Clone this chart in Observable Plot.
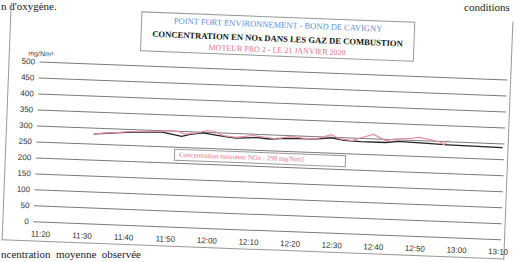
<!DOCTYPE html>
<html><head><meta charset="utf-8">
<script src="https://cdn.jsdelivr.net/npm/d3@7"></script>
<script src="https://cdn.jsdelivr.net/npm/@observablehq/plot@0.6"></script>
<style>
html,body{margin:0;padding:0;background:#fff;width:521px;height:262px;overflow:hidden;}
#page{position:relative;width:521px;height:262px;overflow:hidden;}
.doc{position:absolute;font-family:"Liberation Serif","DejaVu Serif",serif;font-size:11px;line-height:12px;color:#222;white-space:nowrap;}
#rot{position:absolute;left:0;top:0;width:521px;height:262px;transform:rotate(2.2deg);transform-origin:260.5px 131px;}
#frame{position:absolute;left:6px;top:12px;width:503px;height:238px;border:1px solid #999;border-top:none;box-sizing:border-box;}
#chart{position:absolute;left:0;top:0;}
#titlebox{position:absolute;left:137px;top:16px;width:274px;height:40px;border:1px solid #999;box-sizing:border-box;background:#fff;
  font-family:"Liberation Serif","DejaVu Serif",serif;text-align:center;white-space:nowrap;}
#titlebox div{line-height:11px;}
#t1{color:#5b90dc;font-size:8.5px;margin-top:2px;}
#t2{color:#111;font-size:8.6px;font-weight:bold;margin-top:3px;}
#t3{color:#e2708a;font-size:8px;margin-top:0px;}
#avgbox{position:absolute;left:175px;top:152px;width:172px;height:12px;border:1px solid #999;box-sizing:border-box;background:#fff;
  font-family:"Liberation Serif","DejaVu Serif",serif;font-size:7px;color:#e2708a;line-height:10px;padding-left:4px;white-space:nowrap;}
</style></head>
<body>
<div id="page">
  <div class="doc" style="left:1px;top:0px">n d'oxygène.</div>
  <div class="doc" style="left:464px;top:1px">conditions</div>
  <div class="doc" style="left:1px;top:248px">ncentration&nbsp; moyenne&nbsp; observée</div>
  <div id="rot">
    <div id="frame"></div>
    <div id="chart"></div>
    <div id="titlebox">
      <div id="t1">POINT FORT ENVIRONNEMENT - BOND DE CAVIGNY</div>
      <div id="t2">CONCENTRATION EN NOx DANS LES GAZ DE COMBUSTION</div>
      <div id="t3">MOTEUR PRO 2 - LE 21 JANVIER 2020</div>
    </div>
    <div id="avgbox">Concentration moyenne NOx : 298 mg/Nm3</div>
  </div>
</div>
<script>
const xTickLabels = ["11:20","11:30","11:40","11:50","12:00","12:10","12:20","12:30","12:40","12:50","13:00","13:10"];
const yTicks = [0,50,100,150,200,250,300,350,400,450,500];
const unitLabel = "mg/Nm³";

const pinkTimes = ["11:32","11:34","11:38","11:41","11:45","11:48","11:50","11:52","11:54","11:57","11:59","12:01","12:03","12:06","12:10","12:13","12:16","12:19","12:22","12:25","12:29","12:31","12:34","12:36","12:39","12:42","12:44","12:48","12:50","12:53","12:55","12:56","12:57"];
const pinkValues = [282,285,290,294,296,298,302,300,292,298,306,304,292,288,296,292,288,298,294,292,308,296,292,302,314,296,302,306,310,304,298,290,304];

const blackTimes = ["11:32","11:41","11:48","11:53","11:55","11:58","12:03","12:06","12:11","12:14","12:17","12:21","12:25","12:29","12:32","12:36","12:42","12:45","12:52","12:57","13:10"];
const blackValues = [282,292,296,285,292,298,290,286,290,287,290,292,292,298,292,290,290,295,292,290,288];

const toMin = s => { const [h, m] = s.split(":").map(Number); return h * 60 + m; };
const fmt = m => `${Math.floor(m / 60)}:${String(m % 60).padStart(2, "0")}`;

const pink = pinkTimes.map((t, i) => ({t: toMin(t), v: pinkValues[i]}));
const black = blackTimes.map((t, i) => ({t: toMin(t), v: blackValues[i]}));

const chart = Plot.plot({
  width: 521, height: 262,
  marginLeft: 37, marginRight: 16, marginTop: 70, marginBottom: 32,
  style: {fontFamily: "'Liberation Sans', Arial, sans-serif", fontSize: "8px", color: "#333", background: "transparent"},
  x: {domain: [toMin("11:20") - 1.7, toMin("13:10") + 0.7], ticks: xTickLabels.map(toMin), tickFormat: fmt, tickSize: 0, tickPadding: 9, label: null},
  y: {domain: [0, 500], ticks: yTicks, tickSize: 0, tickPadding: 5, label: null},
  marks: [
    Plot.ruleY(yTicks, {stroke: "#7a7a7a", strokeWidth: 1}),
    Plot.lineY(black, {x: "t", y: "v", stroke: "#222", strokeWidth: 1.3}),
    Plot.lineY(pink, {x: "t", y: "v", stroke: "#ea8fa2", strokeWidth: 1.2}),
    Plot.text([unitLabel], {frameAnchor: "top-left", dx: -12, dy: -11, text: d => d, fontSize: 7, textAnchor: "start", fill: "#444"})
  ]
});
document.getElementById("chart").appendChild(chart);
</script>
</body></html>
